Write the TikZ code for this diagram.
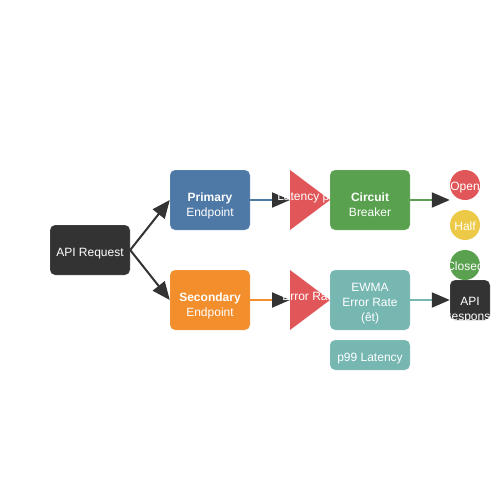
\documentclass[tikz,border=0pt]{standalone}
\usepackage{fontspec}
\setmainfont{Liberation Sans}
\usetikzlibrary{shapes.geometric,arrows.meta}
\definecolor{darkgrey}{HTML}{333333}
\definecolor{tabblue}{HTML}{4E79A7}
\definecolor{taborange}{HTML}{F28E2B}
\definecolor{tabgreen}{HTML}{59A14F}
\definecolor{tabteal}{HTML}{76B7B2}
\definecolor{tabred}{HTML}{E15759}
\definecolor{tabyellow}{HTML}{EDC948}
\tikzset{
  box/.style={rectangle, rounded corners=5pt, fill=#1, draw=white, draw opacity=0.4,
    text=white, align=center, minimum width=80pt, minimum height=60pt, inner sep=0pt,
    text height=12.5pt, text depth=0pt, font=\fontsize{12}{15}\selectfont},
  twoline/.style={text height=32pt},
  tri/.style={isosceles triangle, isosceles triangle stretches, fill=tabred,
    minimum width=60pt, minimum height=40pt, inner sep=0pt, outer sep=0pt},
  trilabel/.style={text=white, inner sep=0pt, anchor=base, font=\fontsize{12}{15}\selectfont},
  statedot/.style={circle, fill=#1, minimum size=30pt, inner sep=0pt, text=white,
    text height=10pt, text depth=0pt, font=\fontsize{12}{15}\selectfont},
  flow/.style={line width=2pt, draw=#1, -{Triangle[length=18pt,width=15pt,color=darkgrey]}},
}

\begin{document}
\begin{tikzpicture}[x=1pt,y=-1pt]
  \fill[white] (0,0) rectangle (500,500);

  % Detectors
  \node[tri, anchor=apex] (latency) at (330,200) {};
  \node[tri, anchor=apex] (errrate) at (330,300) {};

  % Request and endpoints
  \node[box=darkgrey, minimum height=50pt] (request) at (90,250) {API Request};
  \node[box=tabblue, twoline] (primary) at (210,200) {\textbf{Primary}\\Endpoint};
  \node[box=taborange, twoline] (secondary) at (210,300) {\textbf{Secondary}\\Endpoint};

  % Breaker and EWMA
  \node[box=tabgreen, twoline] (breaker) at (370,200) {\textbf{Circuit}\\Breaker};
  \node[box=tabteal, text height=42pt] (ewma) at (370,300) {EWMA\\Error Rate\\(êt)};
  \node[box=tabteal, minimum height=30pt] (p99) at (370,355) {p99 Latency};

  % States
  \node[statedot=tabred] (open) at (465,185) {\makebox[0pt]{Open}};
  \node[statedot=tabyellow] (half) at (465,225) {\makebox[0pt]{Half}};
  \node[statedot=tabgreen] (closed) at (465,265) {\makebox[0pt]{Closed}};
  \node[box=darkgrey, minimum width=40pt, minimum height=40pt, text height=40pt]
    (response) at (470,300) {\makebox[0pt]{API}\\\makebox[0pt]{Response}};

  % Flows
  \draw[flow=darkgrey] (request.east) -- (primary.west);
  \draw[flow=darkgrey] (request.east) -- (secondary.west);
  \draw[flow=tabblue] (primary.east) -- (latency.lower side);
  \draw[flow=taborange] (secondary.east) -- (errrate.lower side);
  \draw[flow=tabgreen] (breaker.east) -- (breaker.east -| open.west);
  \draw[flow=tabteal] (ewma.east) -- (response.west);

  % Detector labels
  \begin{scope}
    \clip (primary.north east) rectangle (breaker.south west);
    \node[trilabel] (latencytext) at (310,200) {Latency p99};
  \end{scope}
  \begin{scope}
    \clip (secondary.north east) rectangle (ewma.south west);
    \node[trilabel] (errratetext) at (310,300) {Error Rate};
  \end{scope}
\end{tikzpicture}
\end{document}
